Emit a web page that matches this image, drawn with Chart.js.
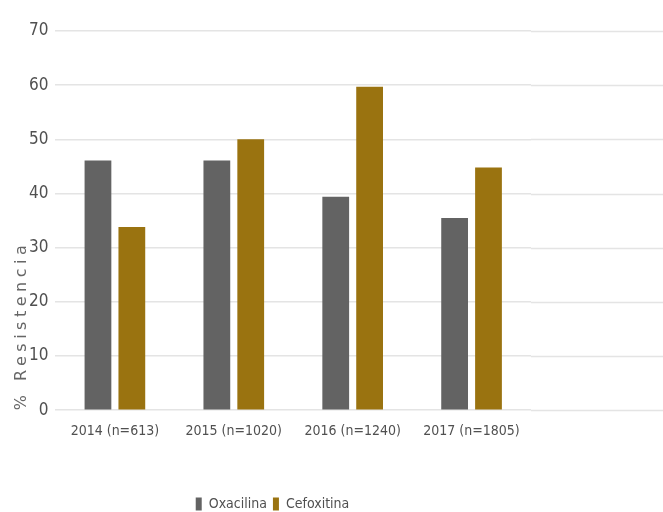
<!DOCTYPE html>
<html>
<head>
<meta charset="utf-8">
<script src="https://cdn.jsdelivr.net/npm/chart.js@4/dist/chart.umd.min.js"></script>
<style>
  html, body { margin: 0; padding: 0; background: #fff; }
  #wrap { width: 663px; height: 512px; }
</style>
</head>
<body>
<div id="wrap"><canvas id="chart"></canvas></div>
<script>
const categories = ["2014 (n=613)", "2015 (n=1020)", "2016 (n=1240)", "2017 (n=1805)"];
const oxacilina = [46.1, 46.1, 39.4, 35.5];
const cefoxitina = [33.8, 50.0, 59.7, 44.8];
const yTicks = [0, 10, 20, 30, 40, 50, 60, 70];

// grid lines keep going to the right edge of the picture
const wideGrid = {
  id: "wideGrid",
  beforeDatasetsDraw(chart) {
    const { ctx, chartArea, scales } = chart;
    ctx.save();
    ctx.strokeStyle = "#e4e4e4";
    ctx.lineWidth = 1.5;
    yTicks.forEach(v => {
      const y = Math.round(scales.y.getPixelForValue(v)) + 0.5;
      ctx.beginPath();
      ctx.moveTo(chartArea.right, y);
      ctx.lineTo(chart.width, y);
      ctx.stroke();
    });
    ctx.restore();
  }
};

const chart = new Chart(document.getElementById("chart"), {
  type: "bar",
  data: {
    labels: categories,
    datasets: [
      { label: "Oxacilina", data: oxacilina, backgroundColor: "#636363" },
      { label: "Cefoxitina", data: cefoxitina, backgroundColor: "#9a7310" }
    ]
  },
  options: {
    responsive: true,
    maintainAspectRatio: false,
    animation: false,
    categoryPercentage: 0.57,
    barPercentage: 0.79,
    layout: { padding: { left: 14, right: 132, top: 31, bottom: -9 } },
    scales: {
      x: {
        grid: { display: false },
        border: { display: false },
        afterFit: axis => { axis.height += 46; },
        ticks: {
          padding: 5,
          color: "#505050",
          font: { family: "DejaVu Sans Condensed", size: 14 }
        }
      },
      y: {
        min: 0,
        max: 70,
        afterBuildTicks: axis => { axis.ticks = yTicks.map(v => ({ value: v })); },
        grid: { color: "#e4e4e4", lineWidth: 1.5, drawTicks: false },
        border: { display: false },
        ticks: {
          padding: 7,
          color: "#505050",
          font: { family: "DejaVu Sans Condensed", size: 17 }
        },
        title: {
          display: true,
          text: "% Resistencia",
          align: "start",
          color: "#666666",
          padding: { top: 0, bottom: -8 },
          font: { family: "DejaVu Sans", size: 16, lineHeight: 1 }
        }
      }
    },
    plugins: {
      legend: {
        position: "bottom",
        labels: {
          boxWidth: 6,
          boxHeight: 13,
          padding: 6,
          color: "#505050",
          font: { family: "DejaVu Sans Condensed", size: 14 }
        }
      },
      tooltip: { enabled: false }
    }
  },
  plugins: [wideGrid]
});

// spaced-out letters on the y axis title
const yScale = chart.scales.y;
const baseTitle = yScale.drawTitle.bind(yScale);
yScale.drawTitle = function () {
  chart.ctx.save();
  chart.ctx.letterSpacing = "4.5px";
  baseTitle();
  chart.ctx.restore();
};
chart.draw();
</script>
</body>
</html>
